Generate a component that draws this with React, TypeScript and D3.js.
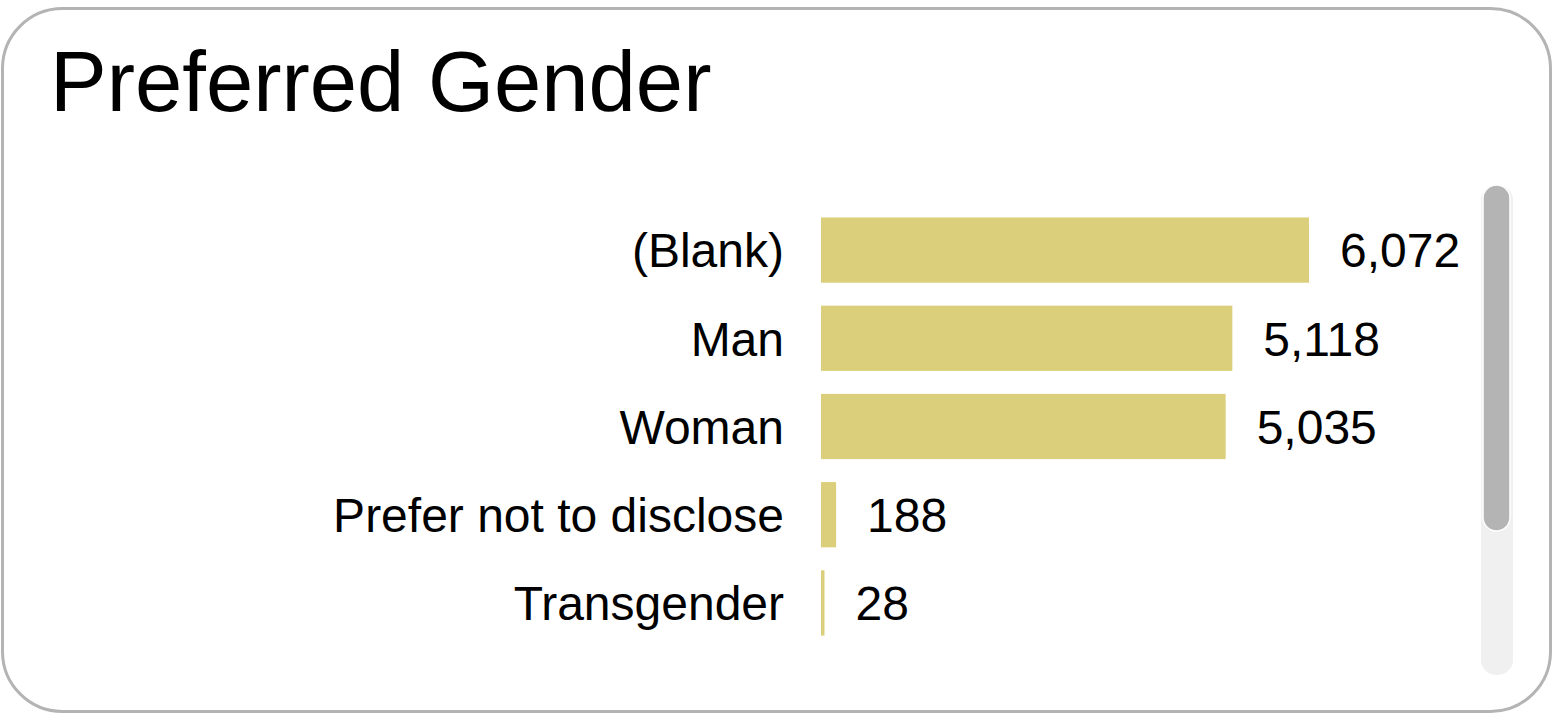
import React, { useEffect, useRef } from "react";
import * as d3 from "d3";

const categories = ["(Blank)", "Man", "Woman", "Prefer not to disclose", "Transgender"];
const counts = [6072, 5118, 5035, 188, 28];
const title = "Preferred Gender";

const App = () => {
  const svgRef = useRef<SVGSVGElement>(null);

  useEffect(() => {
    const width = 1560;
    const height = 715;
    const font = "'Liberation Sans', Arial, Helvetica, sans-serif";

    const svg = d3.select(svgRef.current).attr("width", width).attr("height", height);
    svg.selectAll("*").remove();

    // card frame
    svg
      .append("rect")
      .attr("x", 2.5)
      .attr("y", 8.5)
      .attr("width", 1548)
      .attr("height", 703)
      .attr("rx", 60)
      .attr("fill", "#fff")
      .attr("stroke", "#b4b4b4")
      .attr("stroke-width", 3);

    svg
      .append("text")
      .attr("x", 50)
      .attr("y", 111)
      .attr("font-family", font)
      .attr("font-size", 85)
      .attr("fill", "#000")
      .text(title);

    const y = d3
      .scaleBand()
      .domain(categories)
      .range([206, 647])
      .paddingInner(0.26)
      .paddingOuter(0.13);

    const x = d3
      .scaleLinear()
      .domain([0, d3.max(counts) as number])
      .range([821, 1309]);

    const rows = svg
      .append("g")
      .selectAll("g")
      .data(categories)
      .join("g");

    rows
      .append("rect")
      .attr("x", x(0))
      .attr("y", (d) => y(d) as number)
      .attr("width", (d, i) => Math.max(x(counts[i]) - x(0), 3.5))
      .attr("height", y.bandwidth())
      .attr("fill", "#dccf7b");

    const fmt = d3.format(",");

    rows
      .append("text")
      .attr("x", 784)
      .attr("y", (d) => (y(d) as number) + y.bandwidth() / 2)
      .attr("dy", "0.36em")
      .attr("text-anchor", "end")
      .attr("font-family", font)
      .attr("font-size", 48)
      .attr("fill", "#000")
      .text((d) => d);

    rows
      .append("text")
      .attr("x", (d, i) => x(0) + Math.max(x(counts[i]) - x(0), 3.5) + 31)
      .attr("y", (d) => (y(d) as number) + y.bandwidth() / 2)
      .attr("dy", "0.36em")
      .attr("font-family", font)
      .attr("font-size", 48)
      .attr("fill", "#000")
      .text((d, i) => fmt(counts[i]));

    // scrollbar
    svg
      .append("rect")
      .attr("x", 1481)
      .attr("y", 185)
      .attr("width", 32)
      .attr("height", 490)
      .attr("rx", 15)
      .attr("fill", "#f0f0f0");

    svg
      .append("rect")
      .attr("x", 1483)
      .attr("y", 185)
      .attr("width", 27)
      .attr("height", 346)
      .attr("rx", 13.5)
      .attr("fill", "#b4b4b4")
      .attr("stroke", "#fff")
      .attr("stroke-width", 1.5);
  }, []);

  return (
    <svg
      ref={svgRef}
      style={{ position: "absolute", left: 0, top: 0, display: "block" }}
    ></svg>
  );
};

export default App;
